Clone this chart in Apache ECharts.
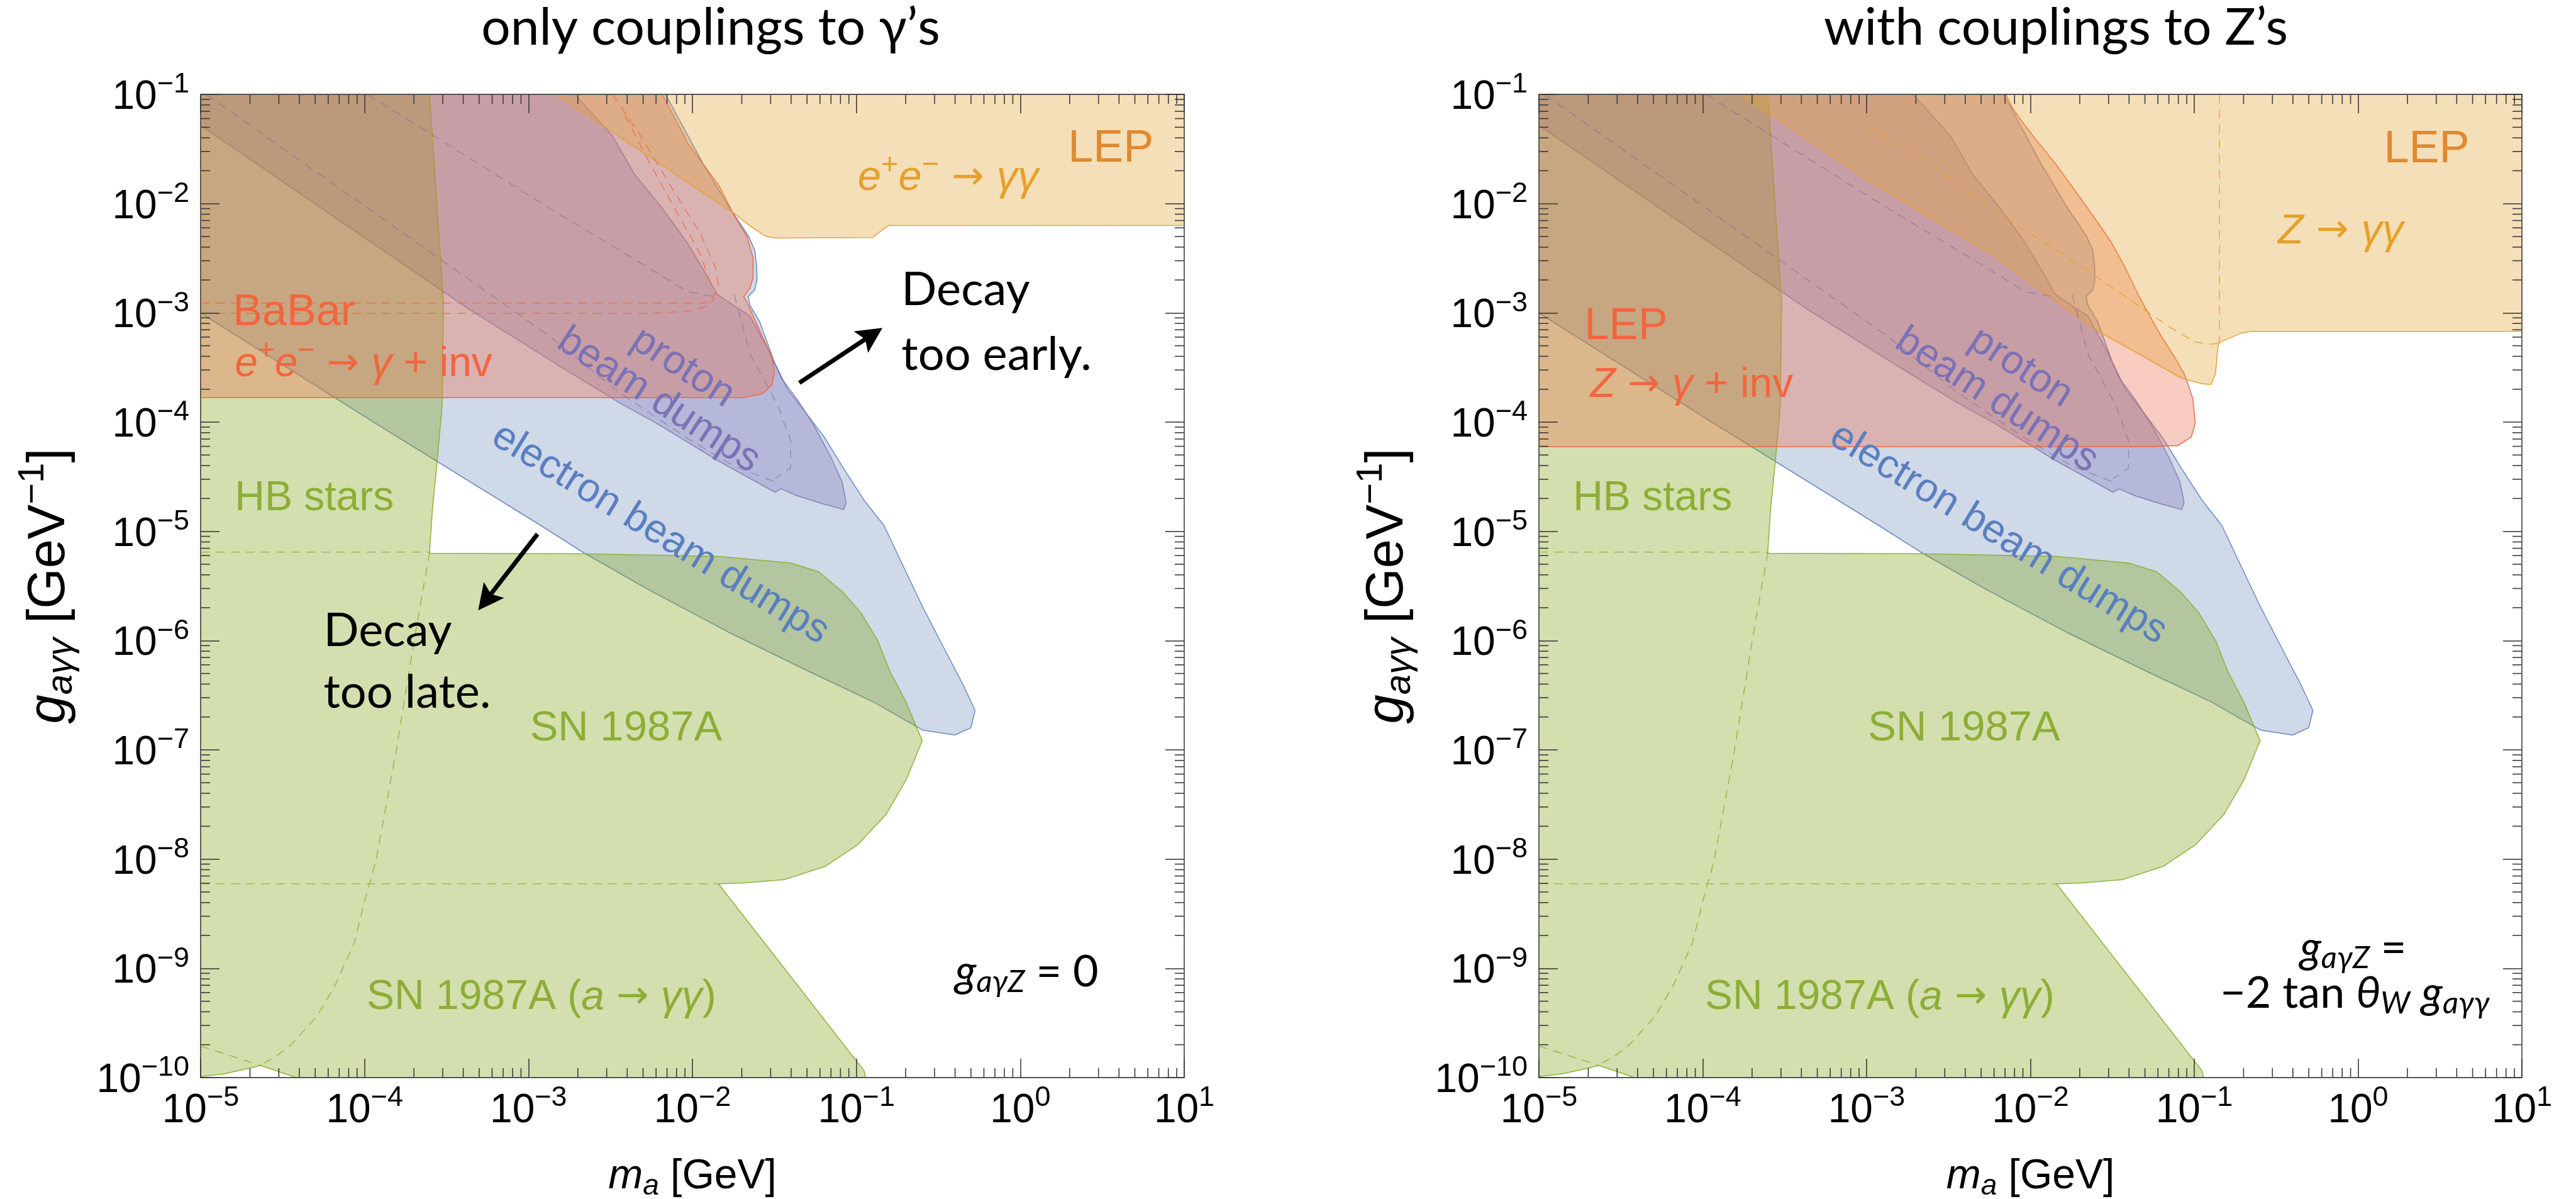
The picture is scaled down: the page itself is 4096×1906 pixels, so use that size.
<!DOCTYPE html>
<html>
<head>
<meta charset="utf-8">
<script src="https://cdn.jsdelivr.net/npm/echarts@6/dist/echarts.min.js"></script>
<style>
  html, body { margin: 0; padding: 0; background: #fff; }
  #chart { width: 4096px; height: 1906px; }
</style>
</head>
<body>
<div id="chart"></div>
<script>
// ---------------------------------------------------------------------------
// ALP exclusion regions in the (m_a, g_aγγ) plane.
// Boundaries are listed as [log10(m_a / GeV), log10(g_aγγ · GeV)].
// ---------------------------------------------------------------------------

// Axis ranges
const X_MIN = 1e-5, X_MAX = 10;
const Y_MIN = 1e-10, Y_MAX = 0.1;

// HB stars + SN 1987A (cooling and a → γγ), drawn as one union
const hbSnLog = [
  [-5, -1], [-3.603, -1], [-3.586, -1.38], [-3.547, -2.268], [-3.519, -2.902],
  [-3.527, -3.85], [-3.557, -4.357], [-3.586, -4.798], [-3.603, -5.179], [-3.6, -5.2],
  [-2.671, -5.205], [-1.84, -5.229], [-1.4, -5.29], [-1.23, -5.37], [-1.08, -5.56],
  [-0.97, -5.75], [-0.87, -6.0], [-0.795, -6.283], [-0.697, -6.563], [-0.598, -6.917],
  [-0.696, -7.274], [-0.819, -7.591], [-0.992, -7.869], [-1.19, -8.067], [-1.436, -8.187],
  [-1.683, -8.218], [-1.841, -8.226], [-1.017, -9.814], [-0.954, -9.933], [-0.943, -10],
  [-4.416, -10], [-4.634, -9.889], [-4.697, -9.912], [-4.856, -9.965], [-5, -9.991]
];

// Electron beam dumps
const electronDumpLog = [
  [-5, -3.002], [-3.937, -4.008], [-2.946, -4.927], [-2.671, -5.189], [-2.277, -5.527],
  [-1.78, -5.923], [-1.288, -6.283], [-0.894, -6.563], [-0.597, -6.818], [-0.4, -6.865],
  [-0.301, -6.798], [-0.276, -6.639], [-0.35, -6.401], [-0.474, -6.044], [-0.597, -5.687],
  [-0.72, -5.3], [-0.83, -4.95], [-0.95, -4.72], [-1.08, -4.42], [-1.19, -4.15],
  [-1.3, -3.93], [-1.42, -3.7], [-1.5, -3.45], [-1.59, -3.08], [-1.65, -2.93],
  [-1.66, -2.85], [-1.62, -2.79], [-1.606, -2.7], [-1.608, -2.58], [-1.619, -2.43],
  [-1.657, -2.3], [-1.784, -2.014], [-1.935, -1.634], [-2.164, -1], [-5, -1]
];

// Proton beam dumps
const protonDumpLog = [
  [-5, -1.284], [-4.595, -1.7], [-4.152, -2.156], [-3.937, -2.377], [-3.365, -2.964],
  [-2.794, -3.502], [-2.45, -3.819], [-2.221, -4.009], [-1.84, -4.357], [-1.496, -4.642],
  [-1.458, -4.611], [-1.363, -4.674], [-1.2, -4.75], [-1.077, -4.801], [-1.062, -4.738],
  [-1.087, -4.547], [-1.154, -4.325], [-1.267, -4.009], [-1.363, -3.787], [-1.458, -3.597],
  [-1.534, -3.343], [-1.65, -3.027], [-1.75, -2.93], [-1.849, -2.831], [-1.916, -2.647],
  [-2.03, -2.362], [-2.183, -2.045], [-2.354, -1.729], [-2.488, -1.38], [-2.621, -1.158],
  [-2.717, -1], [-5, -1]
];

// BaBar, e+e- → γ + inv
const babarLog = [
  [-5, -1], [-2.183, -1], [-2.03, -1.444], [-1.84, -1.83], [-1.745, -2.109], [-1.668, -2.3],
  [-1.63, -2.495], [-1.63, -2.68], [-1.649, -2.774], [-1.687, -2.853], [-1.668, -2.9],
  [-1.63, -3.027], [-1.573, -3.217], [-1.515, -3.407], [-1.5, -3.534], [-1.515, -3.66],
  [-1.573, -3.74], [-1.687, -3.775], [-5, -3.775]
];

// LEP, e+e- → γγ
const lepEeLog = [
  [-2.833, -1], [-1.744, -2.092], [-1.65, -2.203], [-1.555, -2.298], [-1.496, -2.314],
  [-0.903, -2.312], [-0.85, -2.25], [-0.804, -2.201], [1, -2.199], [1, -1]
];

// LEP, Z → γ + inv
const lepZInvLog = [
  [-5, -1], [-2.15, -1], [-2.109, -1.127], [-2.049, -1.253], [-1.968, -1.412], [-1.847, -1.634],
  [-1.725, -1.887], [-1.604, -2.14], [-1.503, -2.362], [-1.422, -2.584], [-1.341, -2.837],
  [-1.26, -3.059], [-1.2, -3.217], [-1.119, -3.407], [-1.058, -3.566], [-1.008, -3.787],
  [-0.994, -4.009], [-1.018, -4.136], [-1.099, -4.215], [-1.25, -4.225], [-5, -4.225]
];

// LEP, Z → γγ
const lepZDiphotonLog = [
  [-3.77, -1], [-3.019, -1.76], [-2.21, -2.489], [-1.604, -3.154], [-1.301, -3.407],
  [-1.079, -3.597], [-0.95, -3.65], [-0.897, -3.654], [-0.87, -3.55], [-0.858, -3.35],
  [-0.852, -3.281], [-0.836, -3.265], [-0.715, -3.186], [-0.65, -3.17], [1, -3.17], [1, -1]
];

// Hidden parts of boundaries (dashed)
const hbDashLog = [
  [-3.603, -5.19], [-3.698, -6.003], [-3.807, -7.006], [-3.93, -8.01], [-3.999, -8.38],
  [-4.062, -8.765], [-4.18, -9.156], [-4.289, -9.436], [-4.448, -9.7], [-4.54, -9.806], [-4.635, -9.885]
];
const snTopDashLog = [[-5, -5.19], [-3.603, -5.19]];
const snMidDashLog = [[-5, -8.226], [-1.841, -8.226]];
const snLowDashLog = [[-5, -9.711], [-4.634, -9.889]];
const babarDashLog = [
  [[-5, -2.91], [-1.93, -2.91], [-1.87, -2.87]],
  [[-5, -3.005], [-2.25, -3.005], [-2.0, -2.98], [-1.9, -2.93], [-1.86, -2.86]],
  [[-2.488, -1], [-2.316, -1.38], [-2.126, -1.855], [-1.954, -2.268], [-1.859, -2.584], [-1.84, -2.773], [-1.896, -2.9]],
  [[-2.412, -1.19], [-2.259, -1.634], [-2.107, -2.046], [-1.954, -2.457], [-1.879, -2.773]]
];
const dumpDashLog = [
  [[-3.982, -1], [-3.594, -1.364], [-2.869, -2.045], [-2.411, -2.457], [-2.03, -2.806], [-1.858, -2.853]],
  [[-4.966, -1], [-3.498, -2.552], [-2.869, -3.217], [-2.45, -3.724], [-2.03, -4.15], [-1.75, -4.4], [-1.496, -4.548]],
  [[-1.745, -2.833], [-1.649, -3.375], [-1.478, -3.851], [-1.401, -4.167], [-1.401, -4.42], [-1.495, -4.516]]
];
const lepZDashLog = [
  [[-0.846, -1], [-0.846, -3.28]],
  [[-2.998, -1], [-2.998, -1.29]],
  [[-2.998, -1.29], [-2.938, -1.348], [-2.614, -1.634], [-2.21, -2.077], [-1.806, -2.457],
   [-1.402, -2.869], [-1.159, -3.122], [-0.998, -3.265], [-0.907, -3.287], [-0.846, -3.28]]
];

// Arrows: [log m start, log g start, log m tip, log g tip]
const arrowsLog = [
  [-1.348, -3.641, -0.841, -3.137],
  [-2.945, -5.025, -3.307, -5.723]
];

// Titles
const panelTitles = ['only couplings to γ’s', 'with couplings to Z’s'];

// ---------------------------------------------------------------------------
// Styling
// ---------------------------------------------------------------------------
const SANS = '"Liberation Sans", Arial, Helvetica, sans-serif';
const AVENIR = 'Lato, "Open Sans", sans-serif';
const ARROW_FONT = '"DejaVu Sans", sans-serif';

const FILL = {
  blue: 'rgba(118,146,189,0.35)',
  purple: 'rgba(133,123,186,0.35)',
  green: 'rgba(129,164,24,0.35)',
  red: 'rgba(235,109,75,0.35)',
  orange: 'rgba(226,164,55,0.35)'
};
const EDGE = {
  blue: 'rgba(85,120,185,0.85)',
  purple: 'rgba(120,105,170,0.75)',
  green: 'rgba(140,175,50,0.95)',
  red: 'rgba(238,100,60,0.95)',
  orange: 'rgba(230,158,45,0.95)'
};
const C_GREEN = '#8cae36', C_PURPLE = '#7b72b6', C_BLUE = '#5a7fc0';
const C_RED = '#f2663f', C_LEP = '#e0892f', C_LEPSUB = '#e5a12c';

const DASH_GREEN = 'rgba(140,175,50,0.9)';
const DASH_GRAY = 'rgba(110,100,150,0.55)';
const DASH_RED = 'rgba(240,105,70,0.9)';
const DASH_ORANGE = 'rgba(230,158,45,0.9)';

const sharedText = [
  {t: '{r|HB stars}', x: -4.792, y: -4.822, size: 66, color: C_GREEN},
  {t: '{r|SN 1987A}', x: -2.991, y: -6.927, size: 67, color: C_GREEN},
  {t: '{r|SN 1987A (}{i|a}{ar| → }{i|γγ}{r|)}', x: -3.987, y: -9.389, size: 66, color: C_GREEN},
  {t: 'proton', x: -2.059, y: -3.502, size: 64, color: C_PURPLE, rot: -33},
  {t: 'beam dumps', x: -2.206, y: -3.803, size: 64, color: C_PURPLE, rot: -33},
  {t: 'electron beam dumps', x: -2.196, y: -5.025, size: 64, color: C_BLUE, rot: -31.5}
];
const leftText = sharedText.concat([
  {t: '{r|LEP}', x: 0.813, y: -1.634, size: 72, color: C_LEP, align: 'right'},
  {t: '{i|e}{sup|+}{i|e}{sup|−}{ar| → }{i|γγ}', x: -0.992, y: -1.891, size: 67, color: C_LEPSUB},
  {t: '{r|BaBar}', x: -4.803, y: -3.129, size: 70, color: C_RED},
  {t: '{i|e}{sup|+}{i|e}{sup|−}{ar| → }{i|γ}{r| + inv}', x: -4.792, y: -3.594, size: 66, color: C_RED},
  {t: '{i|g}{isub|aγZ}{r| = 0}', x: -0.398, y: -9.162, size: 70, color: '#000', font: AVENIR},
  {t: '{r|Decay}', x: -0.725, y: -2.92, size: 74, color: '#000', font: AVENIR},
  {t: '{r|too early.}', x: -0.725, y: -3.512, size: 74, color: '#000', font: AVENIR},
  {t: '{r|Decay}', x: -4.25, y: -6.045, size: 74, color: '#000', font: AVENIR},
  {t: '{r|too late.}', x: -4.25, y: -6.608, size: 74, color: '#000', font: AVENIR}
]);
const rightText = sharedText.concat([
  {t: '{r|LEP}', x: 0.68, y: -1.638, size: 72, color: C_LEP, align: 'right'},
  {t: '{i|Z}{ar| → }{i|γγ}', x: -0.489, y: -2.379, size: 67, color: C_LEPSUB},
  {t: '{r|LEP}', x: -4.722, y: -3.256, size: 70, color: C_RED},
  {t: '{i|Z}{ar| → }{i|γ}{r| + inv}', x: -4.687, y: -3.784, size: 66, color: C_RED},
  {t: '{i|g}{isub|aγZ}{r| =}', x: -0.03, y: -8.94, size: 70, color: '#000', font: AVENIR, align: 'center'},
  {t: '{r|−2 tan }{i|θ}{isub|W}{r| }{i|g}{isub|aγγ}', x: -0.02, y: -9.357, size: 70, color: '#000', font: AVENIR, align: 'center'}
]);

// Minor tick positions (2..9 × 10^k)
const X_MINOR = [], Y_MINOR = [];
for (let k = -5; k < 1; k++) for (let d = 2; d < 10; d++) X_MINOR.push(d * Math.pow(10, k));
for (let k = -10; k < -1; k++) for (let d = 2; d < 10; d++) Y_MINOR.push(d * Math.pow(10, k));

// ---------------------------------------------------------------------------
// Helpers
// ---------------------------------------------------------------------------
const toLinear = pts => pts.map(([a, b]) => [Math.pow(10, a), Math.pow(10, b)]);

// Rich text styles with superscripts / subscripts.
// Every token is top-aligned in a line of height H; vertical offsets come from padding.
// colorKey is 'fill' (zrender elements) or 'color' (ECharts labels).
function richSet(F, fam, color, colorKey, hFactor) {
  const H = Math.round((hFactor || 1.24) * F);
  const T = Math.round(0.17 * F), s = Math.round(0.7 * F), P = Math.round(0.54 * F);
  const mk = (o) => { o[colorKey] = color; o.lineHeight = H; o.verticalAlign = 'top'; return o; };
  const base = mk({fontSize: F, fontFamily: fam, height: F, padding: [T, 0, 0, 0]});
  const sup = mk({fontSize: s, fontFamily: fam, height: s, padding: [0, 0, 0, 0]});
  const sub = mk({fontSize: s, fontFamily: fam, height: s, padding: [P, 0, 0, 0]});
  const ar = mk({fontSize: Math.round(0.92 * F), fontFamily: ARROW_FONT, height: F, padding: [T, 0, 0, 0]});
  return {
    r: base, b: base, i: Object.assign({}, base, {fontStyle: 'italic'}),
    sup: sup, isup: Object.assign({}, sup, {fontStyle: 'italic'}),
    sub: sub, isub: Object.assign({}, sub, {fontStyle: 'italic'}),
    ar: ar
  };
}

function powLabel(v) {
  const e = Math.round(Math.log10(v));
  return '{b|10}{sup|' + (e < 0 ? '−' + (-e) : String(e)) + '}';
}

function regionSeries(g, ptsLog, key) {
  const pts = toLinear(ptsLog);
  return {
    type: 'custom', xAxisIndex: g, yAxisIndex: g, silent: true, animation: false, z: 2,
    data: [pts[0]],
    renderItem: (params, api) => ({
      type: 'polygon',
      shape: {points: pts.map(p => api.coord(p))},
      style: {fill: FILL[key], stroke: EDGE[key], lineWidth: 1.5, lineJoin: 'round'}
    })
  };
}

function dashSeries(g, lines) {
  const conv = lines.map(l => ({color: l.color, pts: toLinear(l.pts)}));
  return {
    type: 'custom', xAxisIndex: g, yAxisIndex: g, silent: true, animation: false, z: 3,
    data: conv.map(l => l.pts[0]),
    renderItem: (params, api) => {
      const l = conv[params.dataIndex];
      return {
        type: 'polyline',
        shape: {points: l.pts.map(p => api.coord(p))},
        style: {stroke: l.color, lineWidth: 1.4, lineDash: [14, 10], fill: null}
      };
    }
  };
}

function labelSeries(g, labels) {
  return {
    type: 'custom', xAxisIndex: g, yAxisIndex: g, silent: true, animation: false, z: 5,
    data: labels.map(l => [Math.pow(10, l.x), Math.pow(10, l.y)]),
    renderItem: (params, api) => {
      const l = labels[params.dataIndex];
      const p = api.coord([Math.pow(10, l.x), Math.pow(10, l.y)]);
      const fam = l.font || SANS;
      if (l.rot != null) {
        return {
          type: 'text', x: p[0], y: p[1], rotation: l.rot * Math.PI / 180,
          style: {text: l.t, fontSize: l.size, fontFamily: fam, fill: l.color, align: 'center', verticalAlign: 'middle'}
        };
      }
      return {
        type: 'text', x: p[0], y: p[1] - 0.98 * l.size,
        style: {
          text: l.t, rich: richSet(l.size, fam, l.color, 'fill'),
          fontSize: l.size, fontFamily: fam, fill: l.color,
          align: l.align || 'left', verticalAlign: 'top'
        }
      };
    }
  };
}

function arrowSeries(g, arrows) {
  return {
    type: 'custom', xAxisIndex: g, yAxisIndex: g, silent: true, animation: false, z: 5,
    data: arrows.map(a => [Math.pow(10, a[0]), Math.pow(10, a[1])]),
    renderItem: (params, api) => {
      const a = arrows[params.dataIndex];
      const p1 = api.coord([Math.pow(10, a[0]), Math.pow(10, a[1])]);
      const p2 = api.coord([Math.pow(10, a[2]), Math.pow(10, a[3])]);
      const dx = p2[0] - p1[0], dy = p2[1] - p1[1], L = Math.hypot(dx, dy);
      const ux = dx / L, uy = dy / L, nx = -uy, ny = ux;
      const HL = 41, HW = 20.5;
      const bx = p2[0] - ux * HL, by = p2[1] - uy * HL;
      const notch = [p2[0] - ux * HL * 0.8, p2[1] - uy * HL * 0.8];
      return {
        type: 'group', children: [
          {type: 'line', shape: {x1: p1[0], y1: p1[1], x2: notch[0], y2: notch[1]}, style: {stroke: '#000', lineWidth: 7}},
          {type: 'polygon', shape: {points: [p2, [bx + nx * HW, by + ny * HW], notch, [bx - nx * HW, by - ny * HW]]}, style: {fill: '#000'}}
        ]
      };
    }
  };
}

const TICK_STYLE = {stroke: '#3a3a3a', lineWidth: 1.6};
function minorTickSeries(g, dim) {
  const vals = dim === 'x' ? X_MINOR : Y_MINOR;
  const LEN = 15;
  return {
    type: 'custom', xAxisIndex: g, yAxisIndex: g, silent: true, animation: false, z: 20,
    data: vals.map(v => dim === 'x' ? [v, 1e-5] : [1e-3, v]),
    renderItem: (params, api) => {
      if (dim === 'x') {
        const v = api.value(0);
        const a = api.coord([v, Y_MIN]), b = api.coord([v, Y_MAX]);
        return {type: 'group', children: [
          {type: 'line', shape: {x1: a[0], y1: a[1], x2: a[0], y2: a[1] - LEN}, style: TICK_STYLE},
          {type: 'line', shape: {x1: b[0], y1: b[1], x2: b[0], y2: b[1] + LEN}, style: TICK_STYLE}
        ]};
      }
      const v = api.value(1);
      const a = api.coord([X_MIN, v]), b = api.coord([X_MAX, v]);
      return {type: 'group', children: [
        {type: 'line', shape: {x1: a[0], y1: a[1], x2: a[0] + LEN, y2: a[1]}, style: TICK_STYLE},
        {type: 'line', shape: {x1: b[0], y1: b[1], x2: b[0] - LEN, y2: b[1]}, style: TICK_STYLE}
      ]};
    }
  };
}

const AXIS_LINE = {show: true, onZero: false, lineStyle: {color: '#555', width: 1.8}};
const AXIS_TICK = {show: true, inside: true, length: 30, lineStyle: {color: '#3a3a3a', width: 1.6}};
const TICK_F = 64;

function xAxisFor(g, pos, withLabels) {
  const ax = {
    type: 'log', logBase: 10, gridIndex: g, position: pos, min: X_MIN, max: X_MAX, z: 20,
    axisLine: AXIS_LINE, axisTick: AXIS_TICK, splitLine: {show: false},
    axisLabel: {show: false}
  };
  if (withLabels) {
    ax.axisLabel = {
      show: true, margin: 10, formatter: powLabel, rich: richSet(TICK_F, SANS, '#000', 'color', 1.17),
      showMinLabel: true, showMaxLabel: true, hideOverlap: false
    };
    ax.name = '{i|m}{isub|a}{b| [GeV]}';
    ax.nameLocation = 'middle';
    ax.nameGap = 114;
    ax.nameMoveOverlap = false;
    ax.nameTextStyle = {rich: richSet(66, SANS, '#000', 'color')};
  }
  return ax;
}

function yAxisFor(g, pos, withLabels) {
  const ax = {
    type: 'log', logBase: 10, gridIndex: g, position: pos, min: Y_MIN, max: Y_MAX, z: 20,
    axisLine: AXIS_LINE, axisTick: AXIS_TICK, splitLine: {show: false},
    axisLabel: {show: false}
  };
  if (withLabels) {
    ax.axisLabel = {
      show: true, margin: 18, formatter: powLabel, rich: richSet(TICK_F, SANS, '#000', 'color', 1.17),
      showMinLabel: true, showMaxLabel: true, hideOverlap: false
    };
    ax.name = '{i|g}{isub|aγγ}{b| [GeV}{sup|−1}{b|]}';
    ax.nameLocation = 'middle';
    ax.nameRotate = 90;
    ax.nameGap = 192;
    ax.nameMoveOverlap = false;
    ax.nameTextStyle = {rich: richSet(83, SANS, '#000', 'color')};
  }
  return ax;
}

function panelSeries(g, red, lep, dashes, labels, arrows) {
  return [
    regionSeries(g, electronDumpLog, 'blue'),
    regionSeries(g, protonDumpLog, 'purple'),
    regionSeries(g, hbSnLog, 'green'),
    regionSeries(g, red, 'red'),
    regionSeries(g, lep, 'orange'),
    dashSeries(g, dashes),
    labelSeries(g, labels),
    arrowSeries(g, arrows),
    minorTickSeries(g, 'x'),
    minorTickSeries(g, 'y')
  ];
}

const commonDashes = [
  {pts: hbDashLog, color: DASH_GREEN},
  {pts: snTopDashLog, color: DASH_GREEN},
  {pts: snMidDashLog, color: DASH_GREEN},
  {pts: snLowDashLog, color: DASH_GREEN}
].concat(dumpDashLog.map(p => ({pts: p, color: DASH_GRAY})));

const leftDashes = commonDashes.concat(babarDashLog.map(p => ({pts: p, color: DASH_RED})));
const rightDashes = commonDashes.concat(lepZDashLog.map(p => ({pts: p, color: DASH_ORANGE})));

const chart = echarts.init(document.getElementById('chart'), null, {renderer: 'canvas', width: 4096, height: 1906});

const TITLE_F = 82;
chart.setOption({
  animation: false,
  backgroundColor: '#fff',
  grid: [
    {left: 319, top: 150, width: 1564, height: 1563, containLabel: false, outerBoundsMode: 'none'},
    {left: 2447, top: 150, width: 1563, height: 1563, containLabel: false, outerBoundsMode: 'none'}
  ],
  xAxis: [xAxisFor(0, 'bottom', true), xAxisFor(1, 'bottom', true), xAxisFor(0, 'top', false), xAxisFor(1, 'top', false)],
  yAxis: [yAxisFor(0, 'left', true), yAxisFor(1, 'left', true), yAxisFor(0, 'right', false), yAxisFor(1, 'right', false)],
  graphic: [
    {type: 'text', x: 1130, y: 4, silent: true,
     style: {text: panelTitles[0], fontFamily: AVENIR, fontSize: TITLE_F, fill: '#000', align: 'center', verticalAlign: 'top'}},
    {type: 'text', x: 3269, y: 4, silent: true,
     style: {text: panelTitles[1], fontFamily: AVENIR, fontSize: TITLE_F, fill: '#000', align: 'center', verticalAlign: 'top'}}
  ],
  series: [].concat(
    panelSeries(0, babarLog, lepEeLog, leftDashes, leftText, arrowsLog),
    panelSeries(1, lepZInvLog, lepZDiphotonLog, rightDashes, rightText, [])
  )
});
</script>
</body>
</html>
